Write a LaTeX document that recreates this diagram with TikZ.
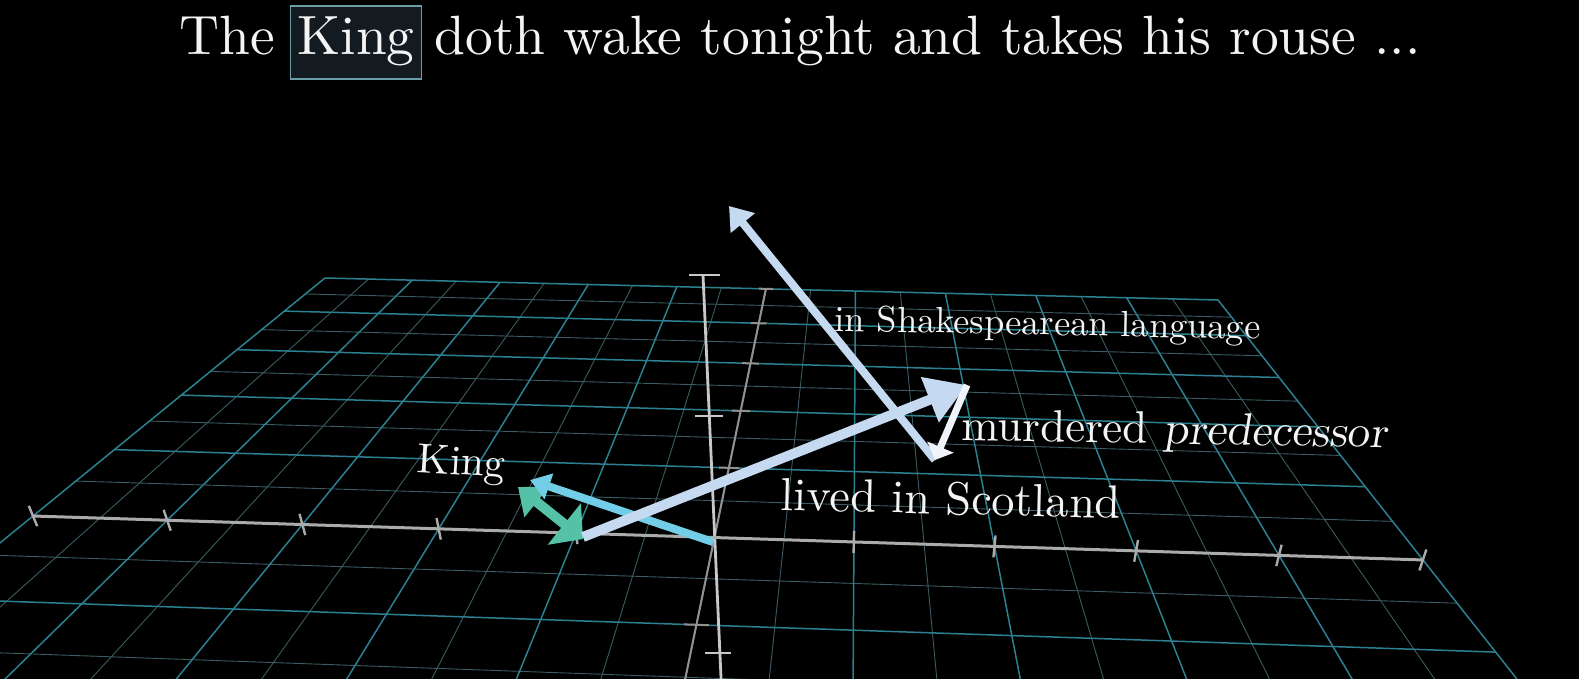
\documentclass[tikz,border=0pt]{standalone}
\usepackage{graphicx}
\usetikzlibrary{arrows.meta,calc}
\definecolor{gmaj}{HTML}{2C8191}
\definecolor{gmin}{HTML}{3A5C63}
\definecolor{axisc}{HTML}{ABABAB}
\definecolor{zaxisc}{HTML}{C8C8C8}
\definecolor{lblue}{HTML}{C5D9F0}
\definecolor{wvec}{HTML}{F0F4FA}
\definecolor{kcyan}{HTML}{72CDE6}
\definecolor{kteal}{HTML}{55C1A7}
\definecolor{boxfill}{HTML}{131B20}
\definecolor{boxline}{HTML}{6A9EA6}
\definecolor{txt}{HTML}{F4F4F4}
\newcommand{\HP}[3]{%
  \pgfmathsetmacro{\Hs}{((#1)+5)/10}%
  \pgfmathsetmacro{\Ht}{(#2)/5}%
  \pgfmathsetmacro{\Hw}{-0.038266*\Hs+0.54777*\Ht+1}%
  \pgfmathsetmacro{\Hx}{(1335.55*\Hs+470.03*\Ht+33)/\Hw}%
  \pgfmathsetmacro{\Hy}{(22.57*\Hs-85.72*\Ht+516)/\Hw}%
  \coordinate (#3) at (\Hx,\Hy);%
}
\tikzset{
  gridminor/.style={draw=gmin, line width=0.45pt},
  gridmajor/.style={draw=gmaj, line width=0.75pt},
  axisline/.style={draw=axisc, line width=1.5pt},
  yaxisline/.style={draw=axisc!85!black, line width=1pt},
  zaxisline/.style={draw=zaxisc, line width=1.4pt},
  tickline/.style={draw=axisc, line width=1.2pt},
  lbl/.style={text=txt, inner sep=0pt, anchor=base west, font=\fontsize{10}{12}\selectfont},
  ttl/.style={text=txt, inner sep=0pt, font=\fontsize{10}{12}\selectfont},
  vecA/.style={draw=lblue, line width=5pt, -{Triangle[length=20pt,width=23pt]}},
  vecS/.style={draw=lblue, line width=4pt, -{Triangle[length=11pt,width=15pt]}},
  vecW/.style={draw=wvec, line width=3.5pt, -{Triangle[length=7pt,width=14pt]}},
  vecK/.style={draw=kcyan, line width=4pt, -{Triangle[length=10pt,width=13pt]}},
  vecT/.style={draw=kteal, line width=5pt, {Triangle[length=12pt,width=19pt]}-{Triangle[length=12pt,width=26pt]}},
}
\begin{document}
\begin{tikzpicture}[x=0.5pt,y=-0.5pt]
\fill[black] (0,0) rectangle (1579,679);
\useasboundingbox (0,0) rectangle (1579,679);
\begin{scope}
\clip (0,0) rectangle (1579,679);
% minor grid lines
\foreach \gu in {-4.5,-3.5,-2.5,-1.5,-0.5,0.5,1.5,2.5,3.5,4.5} {
  \HP{\gu}{-2.5}{ga}\HP{\gu}{5}{gb}
  \draw[gridminor] (ga) -- (gb);
}
\foreach \gv in {-2.5,-1.5,-0.5,0.5,1.5,2.5,3.5,4.5} {
  \HP{-5}{\gv}{ga}\HP{5}{\gv}{gb}
  \draw[gridminor] (ga) -- (gb);
}
% major grid lines
\foreach \gu in {-5,-4,-3,-2,-1,0,1,2,3,4,5} {
  \HP{\gu}{-2.5}{ga}\HP{\gu}{5}{gb}
  \draw[gridmajor] (ga) -- (gb);
}
\foreach \gv in {-2,-1,1,2,3,4,5} {
  \HP{-5}{\gv}{ga}\HP{5}{\gv}{gb}
  \draw[gridmajor] (ga) -- (gb);
}
% y axis (in plane)
\HP{0}{-2.5}{yb}\HP{0}{5}{yt}
\draw[yaxisline] (yb) -- (yt);
\foreach \gv in {-2,-1,1,2,3,4,5} {
  \HP{-0.08}{\gv}{ga}\HP{0.08}{\gv}{gb}
  \draw[yaxisline] (ga) -- (gb);
}
% z axis
\coordinate (ztop) at (703,275);
\coordinate (zbot) at (722,700);
\draw[zaxisline] (ztop) -- (zbot);
\coordinate (zt2a) at (689,275); \coordinate (zt2b) at (720,275);
\coordinate (zt1a) at (695,416); \coordinate (zt1b) at (723,416);
\coordinate (ztma) at (705,653); \coordinate (ztmb) at (731,653);
\draw[zaxisline] (zt2a) -- (zt2b);
\draw[zaxisline] (zt1a) -- (zt1b);
\draw[zaxisline] (ztma) -- (ztmb);
% x axis
\HP{-5}{0}{xl}\HP{5}{0}{xr}
\draw[axisline] (xl) -- (xr);
\coordinate (vp) at (811,2414);
\foreach \gu in {-5,-4,-3,-2,-1,1,2,3,4,5} {
  \HP{\gu}{0}{tk}
  \draw[tickline] ($(tk)!-5.5pt!(vp)$) -- ($(tk)!5.5pt!(vp)$);
}
\end{scope}
% vectors
\coordinate (O) at (713,542);
\coordinate (kingtip) at (530,480);
\coordinate (tealA) at (518,487);
\coordinate (tealB) at (583,539);
\coordinate (p0) at (583,537);
\coordinate (p1) at (967,385);
\coordinate (p2) at (935,460);
\coordinate (p3) at (729,206);
\draw[vecT] (tealA) -- (tealB);
\draw[vecK] (O) -- (kingtip);
\draw[vecA] (p0) -- (p1);
\draw[vecS] (p2) -- (p3);
\draw[vecW] (p1) -- (p2);
% labels
\node[lbl, rotate=-1.1] (shk) at (834,331) {\scalebox{1.82}{in Shakespearean language}};
\node[lbl, rotate=-1] (mur) at (961,440) {\scalebox{2.25}{murdered}};
\node[lbl, rotate=-1, xslant=0.15] (pred) at ([xshift=7.5pt,yshift=-0.2pt]mur.base east) {\scalebox{2.25}{predecessor}};
\node[lbl, rotate=-1.4] (liv) at (780,510) {\scalebox{2.32}{lived in Scotland}};
\node[lbl, rotate=-3.5] (kng) at (416,472) {\scalebox{2.1}{King}};
% title
\node[draw=boxline, fill=boxfill, line width=0.75pt, inner xsep=3.5pt, inner ysep=0pt,
      text height=24.5pt, text depth=12pt, anchor=base, text=txt,
      font=\fontsize{10}{12}\selectfont] (kbox) at (356,55) {\scalebox{2.77}{King}};
\node[ttl, anchor=base east] (the) at ([xshift=-7pt]kbox.base west) {\scalebox{2.77}{The}};
\node[ttl, anchor=base west] (rest) at ([xshift=6pt]kbox.base east) {\scalebox{2.77}{doth wake tonight and takes his rouse ...}};
\end{tikzpicture}
\end{document}
